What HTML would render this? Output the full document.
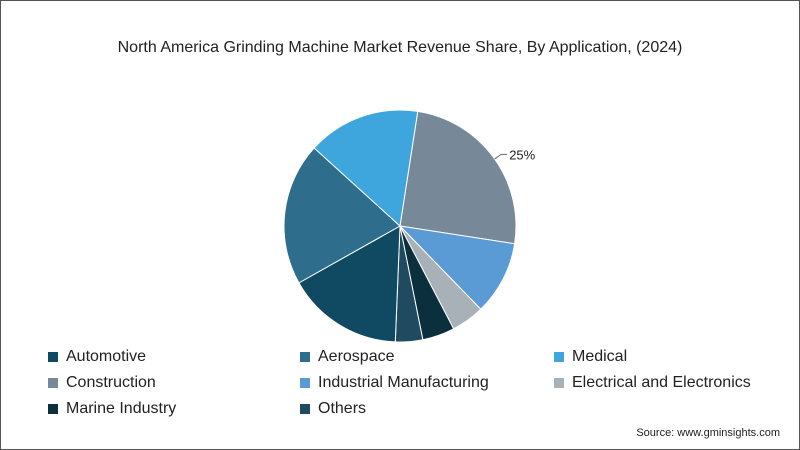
<!DOCTYPE html>
<html><head><meta charset="utf-8"><style>
body{margin:0;width:800px;height:450px;overflow:hidden;background:#fff;font-family:"Liberation Sans",sans-serif;}
#frame{position:absolute;left:0;top:0;width:798px;height:448px;border:1px solid #555;}
.title{position:absolute;top:39px;left:0;width:800px;text-align:center;font-size:16px;color:#222;}
.leg{position:absolute;font-size:16px;color:#222;display:flex;align-items:center;}
.sw{width:10px;height:10px;margin-right:8px;}
.src{position:absolute;right:20px;top:427px;font-size:11px;color:#222;}
</style></head><body>
<div id="frame"></div>
<div class="title">North America Grinding Machine Market Revenue Share, By Application, (2024)</div>
<svg id="pie" width="800" height="450" style="position:absolute;left:0;top:0"></svg>
<div id="legend"></div>
<div class="src">Source: www.gminsights.com</div>
<script>
const categories=["Construction","Industrial Manufacturing","Electrical and Electronics","Marine Industry","Others","Automotive","Aerospace","Medical"];
const values=[25,10.3,4.6,4.5,3.8,16.2,19.9,15.7];
const colors=["#778899","#5b9bd5","#a8b0b8","#0c2f3e","#1f4a60","#0f4a62","#2f6d8d","#3ea6dc"];
const legendOrder=["Automotive","Aerospace","Medical","Construction","Industrial Manufacturing","Electrical and Electronics","Marine Industry","Others"];
const labels=["25%"];
const cx=400,cy=226,r=116,start=8.8;
const svg=document.getElementById('pie');
const NS="http://www.w3.org/2000/svg";
const total=values.reduce((a,b)=>a+b,0);
function pt(deg,rad){const a=deg*Math.PI/180;return [cx+rad*Math.sin(a),cy-rad*Math.cos(a)];}
let ang=start;
values.forEach((v,i)=>{
  const sweep=v/total*360;const [x1,y1]=pt(ang,r);const [x2,y2]=pt(ang+sweep,r);
  const p=document.createElementNS(NS,'path');
  p.setAttribute('d',`M${cx},${cy}L${x1},${y1}A${r},${r} 0 ${sweep>180?1:0} 1 ${x2},${y2}Z`);
  p.setAttribute('fill',colors[i]);p.setAttribute('stroke','#fff');p.setAttribute('stroke-width','1');
  
  
  svg.appendChild(p);
  if(i===0){
    const mid=ang+sweep*0.51;const [ax,ay]=pt(mid,r);const [bx,by]=pt(mid,r+8);
    const l=document.createElementNS(NS,'polyline');
    l.setAttribute('points',`${ax},${ay} ${bx},${by} ${bx+6},${by}`);l.setAttribute('fill','none');l.setAttribute('stroke','#666');
    
    
    svg.appendChild(l);
    const t=document.createElementNS(NS,'text');t.setAttribute('x',bx+8);t.setAttribute('y',by+5);
    t.setAttribute('font-size','13');t.setAttribute('fill','#222');t.textContent=labels[0];
    
    
    svg.appendChild(t);
  }
  ang+=sweep;
});
const lg=document.getElementById('legend');
legendOrder.forEach((c,k)=>{
  const d=document.createElement('div');d.className='leg';
  d.style.left=[48,300,554][k%3]+'px';d.style.top=(348+Math.floor(k/3)*26)+'px';
  d.innerHTML=`<span class="sw" style="background:${colors[categories.indexOf(c)]}"></span>${c}`;
  
  
  lg.appendChild(d);
});
</script>
</body></html>
